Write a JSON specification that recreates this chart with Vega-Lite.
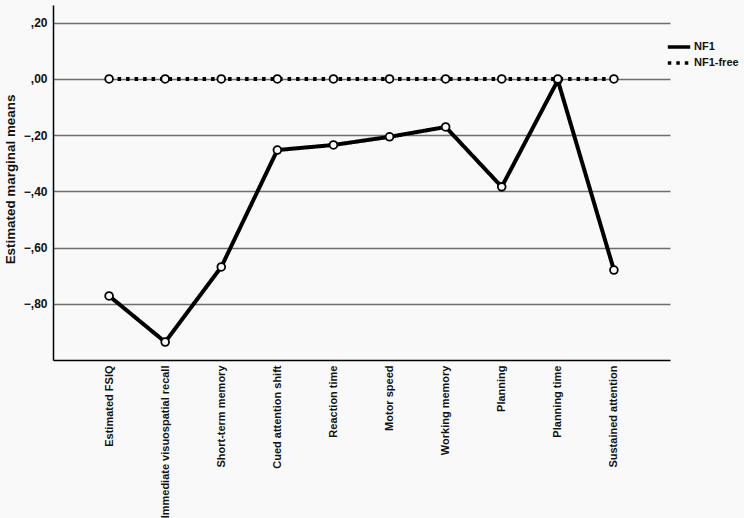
{
  "$schema": "https://vega.github.io/schema/vega-lite/v6.json",
  "width": 617,
  "height": 355,
  "autosize": {"type": "none"},
  "padding": {"left": 53, "top": 5, "right": 74, "bottom": 158},
  "background": "#f9f9f9",
  "config": {
    "view": {"stroke": null},
    "font": "Liberation Sans"
  },
  "data": {
    "values": [
      {"measure": "Estimated FSIQ", "group": "NF1", "value": -0.772},
      {"measure": "Immediate visuospatial recall", "group": "NF1", "value": -0.936},
      {"measure": "Short-term memory", "group": "NF1", "value": -0.669},
      {"measure": "Cued attention shift", "group": "NF1", "value": -0.253},
      {"measure": "Reaction time", "group": "NF1", "value": -0.235},
      {"measure": "Motor speed", "group": "NF1", "value": -0.206},
      {"measure": "Working memory", "group": "NF1", "value": -0.171},
      {"measure": "Planning", "group": "NF1", "value": -0.384},
      {"measure": "Planning time", "group": "NF1", "value": -0.005},
      {"measure": "Sustained attention", "group": "NF1", "value": -0.68},
      {"measure": "Estimated FSIQ", "group": "NF1-free", "value": 0},
      {"measure": "Immediate visuospatial recall", "group": "NF1-free", "value": 0},
      {"measure": "Short-term memory", "group": "NF1-free", "value": 0},
      {"measure": "Cued attention shift", "group": "NF1-free", "value": 0},
      {"measure": "Reaction time", "group": "NF1-free", "value": 0},
      {"measure": "Motor speed", "group": "NF1-free", "value": 0},
      {"measure": "Working memory", "group": "NF1-free", "value": 0},
      {"measure": "Planning", "group": "NF1-free", "value": 0},
      {"measure": "Planning time", "group": "NF1-free", "value": 0},
      {"measure": "Sustained attention", "group": "NF1-free", "value": 0}
    ]
  },
  "encoding": {
    "x": {
      "field": "measure",
      "type": "nominal",
      "sort": null,
      "scale": {"type": "point", "padding": 1.04},
      "axis": {
        "title": null,
        "labelAngle": -90,
        "labelAlign": "right",
        "labelBaseline": "middle",
        "labelPadding": 5,
        "labelFontSize": 11,
        "labelFontWeight": "bold",
        "labelColor": "#111",
        "ticks": false,
        "domainColor": "#000",
        "domainWidth": 1.5,
        "grid": false
      }
    },
    "y": {
      "field": "value",
      "type": "quantitative",
      "scale": {"domain": [-1.0, 0.263], "nice": false, "zero": false},
      "axis": {
        "title": "Estimated marginal means",
        "titleFontSize": 13.4,
        "titleFontWeight": "bold",
        "titleColor": "#111",
        "titleX": -43,
        "titleY": 174,
        "titleAngle": -90,
        "titleAlign": "center",
        "titleBaseline": "middle",
        "values": [0.2, 0, -0.2, -0.4, -0.6, -0.8],
        "labelExpr": "replace(format(datum.value, '.2f'), '0.', ',')",
        "labelFontSize": 12,
        "labelFontWeight": "bold",
        "labelColor": "#111",
        "labelPadding": 6,
        "ticks": false,
        "domainColor": "#000",
        "domainWidth": 1.5,
        "grid": true,
        "gridColor": "#6e6e6e",
        "gridWidth": 1.3
      }
    }
  },
  "layer": [
    {
      "mark": {"type": "line", "color": "#000", "strokeWidth": 4},
      "encoding": {
        "detail": {"field": "group"},
        "strokeDash": {
          "field": "group",
          "type": "nominal",
          "scale": {"domain": ["NF1", "NF1-free"], "range": [[1, 0], [3.5, 5]]},
          "legend": {
            "title": null,
            "orient": "none",
            "legendX": 617,
            "legendY": 33,
            "symbolType": "M-1.6,0H1.6",
            "symbolStrokeColor": "#000",
            "symbolStrokeWidth": 3.5,
            "symbolSize": 196,
            "labelFontSize": 11,
            "labelFontWeight": "bold",
            "labelColor": "#111",
            "labelOffset": 6,
            "rowPadding": -3
          }
        }
      }
    },
    {
      "mark": {"type": "point", "shape": "circle", "size": 60, "filled": false, "stroke": "#000", "strokeWidth": 1.8, "fill": "#f9f9f9", "fillOpacity": 1},
      "encoding": {"detail": {"field": "group"}}
    }
  ]
}
